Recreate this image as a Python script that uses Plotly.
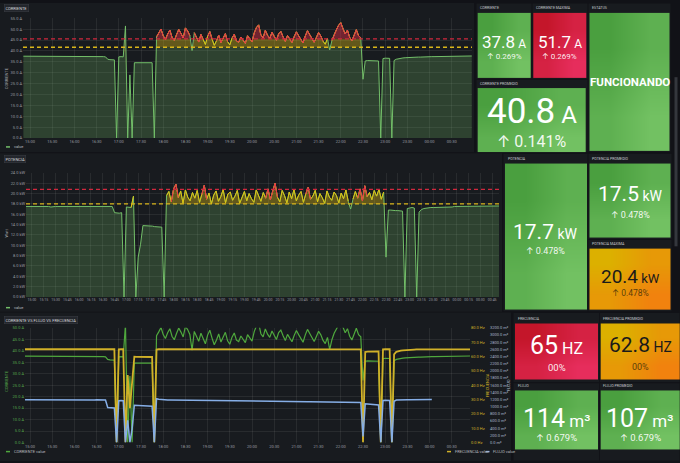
import pandas as pd
import plotly.graph_objects as go

# ---------------- data ----------------
times = pd.date_range("2023-06-01 14:51", periods=203, freq="3min")

corriente = [
    37.6, 37.6, 37.7, 37.6, 37.6, 37.6, 37.7, 37.6, 37.6, 37.6,
    37.6, 37.5, 37.6, 37.6, 37.6, 37.6, 37.5, 37.6, 37.6, 37.5,
    37.5, 37.6, 37.5, 37.5, 37.5, 37.6, 37.5, 37.5, 37.5, 37.5,
    37.5, 37.4, 37.5, 37.4, 37.4, 37.4, 37.4, 37.3,
    36.2, 36.0, 35.9, 35.9,
    0.0,
    37.3, 37.4, 37.3,
    51.5, 0.0, 29.0, 0.0,
    34.6, 34.6, 34.5, 34.6, 34.5, 34.5, 34.6, 34.5, 34.6,
    0.0,
    46.5, 48.2, 50.1, 47.0, 45.3, 47.8, 49.6, 46.2, 44.8, 47.5,
    49.9, 48.1, 46.0, 50.6, 49.2, 47.1, 40.2, 48.4, 46.3, 44.1,
    47.6, 45.2, 43.0, 46.8, 48.9, 45.5, 42.6, 44.7, 47.3, 43.8,
    46.1, 48.0, 44.3, 42.8, 45.9, 47.7, 44.6, 44.0, 46.4, 45.1,
    43.5, 47.0, 45.6, 44.2, 48.3, 50.8, 52.0, 47.4, 46.0, 49.5,
    47.2, 45.8, 48.6, 46.7, 44.9, 47.9, 49.0, 46.5, 44.4, 47.1,
    45.3, 43.9, 46.6, 48.8, 47.0, 45.2, 43.7, 46.9, 49.3, 47.5,
    45.4, 44.0, 46.2, 48.5, 46.9, 44.5, 43.1, 45.8, 40.5, 44.8,
    47.6, 49.7, 51.8, 53.0, 50.2, 47.8, 49.6, 46.3, 44.7, 47.2,
    49.8, 47.0, 46.1,
    27.0,
    35.4, 35.6, 35.6, 35.5, 35.6, 35.5, 35.4,
    0.0,
    36.5, 36.7, 36.7, 36.6,
    0.0,
    35.6, 36.2, 36.5, 36.7, 36.8, 36.9, 37.0, 37.0, 37.1, 37.1,
    37.2, 37.2, 37.2, 37.3, 37.3, 37.3, 37.3, 37.4, 37.4, 37.4,
    37.4, 37.5, 37.5, 37.5, 37.5, 37.5, 37.6, 37.6, 37.6, 37.6,
    37.6, 37.6, 37.7, 37.7, 37.7, 37.7,
]

potencia = [
    17.5, 17.5, 17.6, 17.5, 17.5, 17.5, 17.6, 17.5, 17.5, 17.5,
    17.5, 17.4, 17.5, 17.5, 17.5, 17.5, 17.4, 17.5, 17.5, 17.5,
    17.4, 17.5, 17.5, 17.4, 17.5, 17.5, 17.4, 17.5, 17.4, 17.5,
    17.4, 17.5, 17.4, 17.5, 17.5, 17.4, 17.5, 17.5,
    16.3, 16.2, 16.2, 16.3,
    0.0,
    17.4, 17.4, 17.3,
    19.5, 0.0, 7.7, 10.2,
    13.8, 13.8, 13.7, 13.7, 13.7, 13.6, 13.6, 13.5, 13.5,
    0.0,
    19.6, 20.4, 18.4, 20.9, 21.8, 19.2, 20.5, 18.1, 20.7, 19.3,
    18.6, 20.2, 19.1, 20.6, 18.3, 19.8, 21.6, 18.9, 20.1, 18.0,
    19.7, 20.5, 18.5, 19.4, 20.8, 18.2, 19.9, 20.3, 18.7, 19.5,
    20.6, 18.1, 19.2, 20.4, 18.6, 20.0, 19.0, 18.3, 20.7, 19.4,
    18.5, 20.2, 19.1, 20.9, 18.8, 20.5, 22.0, 19.3, 18.4, 20.6,
    19.6, 18.2, 20.3, 19.0, 20.8, 18.6, 19.7, 20.4, 18.3, 19.9,
    21.2, 18.9, 19.5, 20.6, 18.4, 20.0, 19.2, 18.1, 20.5, 19.3,
    18.7, 20.3, 19.6, 18.2, 20.1, 19.0, 20.7, 18.5, 17.0, 18.9,
    20.4, 19.1, 20.9, 18.6, 21.5, 19.4, 20.2, 18.8, 20.6, 19.5,
    20.8, 18.9, 20.3,
    7.7,
    16.8, 16.8, 16.7, 16.7, 16.7, 16.6, 16.6,
    0.0,
    17.1, 17.2, 17.3, 17.2,
    0.0,
    16.4, 16.9, 17.1, 17.2, 17.2, 17.3, 17.3, 17.3, 17.3, 17.4,
    17.4, 17.4, 17.4, 17.4, 17.4, 17.5, 17.5, 17.5, 17.5, 17.5,
    17.5, 17.5, 17.5, 17.5, 17.6, 17.6, 17.6, 17.6, 17.6, 17.6,
    17.6, 17.6, 17.6, 17.6, 17.6, 17.6,
]

frecuencia = [
    65.0, 65.0, 65.0, 64.9, 65.0, 65.0, 65.0, 65.0, 64.9, 65.0,
    65.0, 65.0, 65.0, 65.0, 65.0, 64.9, 65.0, 65.0, 65.0, 65.0,
    65.0, 65.0, 64.9, 65.0, 65.0, 65.0, 65.0, 65.0, 65.0, 64.9,
    65.0, 65.0, 65.0, 65.0, 65.0, 65.0, 64.9, 65.0, 65.0, 65.0,
    65.0, 65.0,
    0.0,
    64.9, 65.0, 65.0,
    0.0, 47.0, 24.0, 41.0,
    59.8, 59.7, 59.7, 59.6, 59.7, 59.6, 59.6, 59.7, 59.6,
    0.0,
    64.8, 65.0, 65.0, 65.1, 65.0, 65.0, 64.9, 65.0, 65.0, 65.0,
    65.0, 65.1, 65.0, 65.0, 65.0, 64.9, 65.0, 65.0, 65.1, 65.0,
    65.0, 65.0, 65.0, 64.9, 65.0, 65.0, 65.0, 65.1, 65.0, 65.0,
    65.0, 64.9, 65.0, 65.0, 65.0, 65.0, 65.1, 65.0, 65.0, 65.0,
    64.9, 65.0, 65.0, 65.0, 65.1, 65.0, 65.0, 65.0, 64.9, 65.0,
    65.0, 65.0, 65.1, 65.0, 65.0, 65.0, 65.0, 64.9, 65.0, 65.0,
    65.1, 65.0, 65.0, 65.0, 64.9, 65.0, 65.0, 65.0, 65.0, 65.1,
    65.0, 65.0, 64.9, 65.0, 65.0, 65.0, 65.1, 65.0, 65.0, 65.0,
    65.0, 64.9, 65.0, 65.0, 65.0, 65.1, 65.0, 65.0, 65.0, 64.9,
    65.0, 65.0, 64.9,
    0.0,
    63.1, 63.3, 63.3, 63.4, 63.4, 63.5, 63.5,
    0.0,
    64.9, 65.0, 65.0, 65.0,
    0.0,
    61.5, 63.2, 63.8, 64.1, 64.3, 64.5, 64.6, 64.7, 64.8, 64.8,
    64.9, 64.9, 64.9, 65.0, 65.0, 65.0, 65.0, 65.0, 65.0, 65.0,
    65.0, 65.0, 65.0, 65.0, 65.0, 65.0, 65.0, 65.0, 65.0, 65.0,
    65.0, 65.0, 65.0, 65.0, 65.0, 65.0,
]

flujo = [
    1195, 1194, 1196, 1195, 1193, 1194, 1195, 1193, 1192, 1194,
    1193, 1192, 1193, 1191, 1192, 1193, 1191, 1190, 1192, 1191,
    1190, 1191, 1189, 1190, 1191, 1189, 1188, 1190, 1189, 1188,
    1189, 1187, 1188, 1189, 1187, 1186, 1188, 1186,
    975, 968, 966, 964,
    0,
    1165, 1168, 1164,
    0, 620, 0, 380,
    1038, 1034, 1031, 1028, 1025, 1021, 1018, 1014, 1010,
    0,
    1222, 1205, 1196, 1190, 1188, 1186, 1185, 1184, 1183, 1182,
    1181, 1180, 1180, 1179, 1178, 1177, 1177, 1176, 1175, 1175,
    1174, 1173, 1172, 1172, 1171, 1170, 1169, 1169, 1168, 1167,
    1166, 1166, 1165, 1164, 1163, 1163, 1162, 1161, 1160, 1160,
    1159, 1158, 1157, 1157, 1156, 1155, 1154, 1154, 1153, 1152,
    1151, 1150, 1150, 1149, 1148, 1147, 1147, 1146, 1145, 1144,
    1143, 1143, 1142, 1141, 1140, 1139, 1139, 1138, 1137, 1136,
    1135, 1134, 1134, 1133, 1132, 1131, 1130, 1130, 1129, 1128,
    1127, 1126, 1126, 1125, 1124, 1123, 1122, 1121, 1120, 1119,
    1118, 1117, 1116,
    170,
    1078, 1072, 1068, 1064, 1060, 1055, 1048,
    0,
    1172, 1176, 1175, 1174,
    0,
    1150, 1182, 1188, 1190, 1191, 1191, 1192, 1192, 1193, 1193,
    1193, 1194, 1194, 1194, 1195, 1195, 1195, 1196,
    None, None, None, None, None, None, None, None, None, None,
    None, None, None, None, None, None, None, None,
]

for name, arr in [("corriente", corriente), ("potencia", potencia),
                  ("frecuencia", frecuencia), ("flujo", flujo)]:
    assert len(arr) == len(times), (name, len(arr))

corr_thresholds = [41.7, 45.6]
pot_thresholds = [18.0, 20.8]

stat_titles = ["CORRIENTE", "CORRIENTE MAXIMA", "ESTATUS", "CORRIENTE PROMEDIO",
               "POTENCIA", "POTENCIA PROMEDIO", "POTENCIA MAXIMA",
               "FRECUENCIA", "FRECUENCIA PROMEDIO", "FLUJO", "FLUJO PROMEDIO"]
stat_values = ["37.8", "51.7", "FUNCIONANDO", "40.8", "17.7", "17.5", "20.4",
               "65", "62.8", "114", "107"]
stat_units = ["A", "A", "", "A", "kW", "kW", "kW", "HZ", "HZ", "m³", "m³"]
stat_deltas = ["↑ 0.269%", "↑ 0.269%", "", "↑ 0.141%", "↑ 0.478%", "↑ 0.478%",
               "↑ 0.478%", "00%", "00%", "↑ 0.679%", "↑ 0.679%"]

# ---------------- styling / layout helpers ----------------
W, H = 680, 463
PAGE_BG = "#111217"
PANEL_BG = "#181b1f"
GRID = "rgba(255,255,255,0.07)"
TICK = "#9a9ca3"
FONT = "Roboto, Inter, sans-serif"


def X(px):
    return px / W


def Y(py):
    return 1 - py / H


schemes = {
    "green": ("#4a9f3f", "#72c162", "#ffffff", "rgba(255,255,255,0.92)"),
    "red": ("#c4162a", "#e62d5c", "#ffffff", "rgba(255,255,255,0.92)"),
    "orange": ("#dcb000", "#f1820e", "#1a1a1a", "rgba(40,30,10,0.75)"),
}

# panel rect, box rect, value y, delta y, (value size, unit size, delta size), scheme, weight
stat_layout = [
    ((476, 0, 532, 77), (477.7, 10, 530.7, 75.3), 39.5, 54.5, (17, 12, 8), "green", 400),
    ((532, 0, 588, 77), (533.3, 10, 586, 75.3), 39.5, 54.5, (17, 12, 8), "red", 400),
    ((588, 0, 671, 151), (589.5, 10, 669.5, 150), 80, 0, (11.5, 0, 0), "green", 700),
    ((476, 77, 588, 151), (477.7, 86, 586, 150.3), 110, 140, (35, 24, 16), "green", 400),
    ((503, 152, 588, 312), (505, 162.3, 586.7, 310), 232, 251, (21, 14, 9), "green", 400),
    ((588, 152, 672, 239), (589.5, 162.3, 670.7, 236.7), 193.5, 214, (21, 14, 9), "green", 400),
    ((588, 239, 672, 312), (589.5, 248.3, 670.7, 310), 276, 293.5, (19, 13, 8.5), "orange", 400),
    ((513, 313, 599.5, 384), (515, 324, 598.3, 381), 346, 368, (25, 16, 9.5), "red", 400),
    ((599.5, 313, 680, 384), (600.7, 324, 680, 381), 346, 368, (21, 14, 9), "orange", 400),
    ((513, 384, 599.5, 463), (515, 391.7, 598.3, 451.7), 420, 439.5, (25, 17, 9.5), "green", 400),
    ((599.5, 384, 680, 463), (600.7, 391.7, 680, 451.7), 420, 439.5, (25, 17, 9.5), "green", 400),
]

chart_panels = [(0, 0, 474, 151), (0, 152, 502, 312), (0, 313, 511, 463)]

fig = go.Figure()

GREEN = "#73bf69"
YELLOW = "#e0c20e"
RED = "#e8304a"
GFILL = "rgba(115,191,105,0.24)"
YFILL = "rgba(224,190,20,0.38)"
RFILL = "rgba(224,47,68,0.45)"


def threshold_series(v, thr, xa, ya):
    yt, rt = thr
    n = len(v)
    a = [min(x, yt) for x in v]
    b = [min(x, rt) if x > yt else ai for x, ai in zip(v, a)]
    c = [x if x > rt else bi for x, bi in zip(v, b)]
    common = dict(x=times, xaxis=xa, yaxis=ya, mode="lines", hoverinfo="skip")
    fig.add_trace(go.Scatter(y=a, fill="tozeroy", fillcolor=GFILL, line=dict(width=0), **common))
    fig.add_trace(go.Scatter(y=b, fill="tonexty", fillcolor=YFILL, line=dict(width=0), **common))
    fig.add_trace(go.Scatter(y=c, fill="tonexty", fillcolor=RFILL, line=dict(width=0), **common))
    fig.add_trace(go.Scatter(y=v, line=dict(color=GREEN, width=1), **common))

    def nb(i, t):
        return (i > 0 and v[i - 1] > t) or (i < n - 1 and v[i + 1] > t)

    yl = [v[i] if (v[i] > yt - 1.0 and (v[i] > yt or nb(i, yt))) else None for i in range(n)]
    rl = [v[i] if (v[i] > rt - 2.5 and (v[i] > rt or nb(i, rt))) else None for i in range(n)]
    fig.add_trace(go.Scatter(y=yl, line=dict(color=YELLOW, width=1), **common))
    fig.add_trace(go.Scatter(y=rl, line=dict(color=RED, width=1), **common))


threshold_series(corriente, corr_thresholds, "x", "y")
threshold_series(potencia, pot_thresholds, "x2", "y2")

# panel 3
fig.add_trace(go.Scatter(x=times, y=corriente, xaxis="x3", yaxis="y3", mode="lines",
                         line=dict(color="#4fa83d", width=1.2), hoverinfo="skip"))
fig.add_trace(go.Scatter(x=times, y=flujo, xaxis="x3", yaxis="y6", mode="lines",
                         line=dict(color="#86aee6", width=1.5), hoverinfo="skip"))
fig.add_trace(go.Scatter(x=times, y=frecuencia, xaxis="x3", yaxis="y5", mode="lines",
                         line=dict(color="#d1b128", width=1.8), hoverinfo="skip"))

# stat backgrounds as smooth gradient heatmaps on a full-figure pixel axis
for (pr, br, vy, dy, sz, sch, wt) in stat_layout:
    x0, y0, x1, y1 = br
    c1, c2, _, _ = schemes[sch]
    fig.add_trace(go.Heatmap(
        x=[x0, (x0 + x1) / 2, x1], y=[y0, (y0 + y1) / 2, y1],
        z=[[0, 0.5], [0.5, 1]], colorscale=[[0, c1], [1, c2]],
        zsmooth="best", showscale=False, xaxis="x7", yaxis="y7", hoverinfo="skip"))

# ---------------- axes ----------------
xcommon = dict(type="date", tickformat="%H:%M", tick0="2023-06-01 15:00", showgrid=True,
               gridcolor=GRID, gridwidth=1, zeroline=False, showline=False, ticks="",
               tickangle=0, tickmode="linear")
ycommon = dict(showgrid=True, gridcolor=GRID, gridwidth=1, zeroline=False, showline=False,
               ticks="", tickfont=dict(size=4, color=TICK, family=FONT), tickmode="linear",
               tickformat=".1f")

fig.update_layout(
    xaxis=dict(domain=[X(23), X(472)], anchor="y", dtick=1800000,
               range=["2023-06-01 14:50:30", "2023-06-02 00:57:20"],
               tickfont=dict(size=4, color=TICK, family=FONT), **xcommon),
    yaxis=dict(domain=[Y(136.5), Y(15.5)], anchor="x", range=[0, 55], dtick=5, tick0=0,
               ticksuffix=" A", **ycommon),
    xaxis2=dict(domain=[X(26), X(499)], anchor="y2", dtick=900000,
                range=["2023-06-01 14:52:24", "2023-06-02 00:53:36"],
                tickfont=dict(size=3.5, color=TICK, family=FONT), **xcommon),
    yaxis2=dict(domain=[Y(297.2), Y(171.7)], anchor="x2", range=[0, 24], dtick=2, tick0=0,
                ticksuffix=" kW", **ycommon),
    xaxis3=dict(domain=[X(25), X(470)], anchor="y3", dtick=1800000,
                range=["2023-06-01 14:53:15", "2023-06-02 00:54:35"],
                tickfont=dict(size=4, color=TICK, family=FONT), **xcommon),
    yaxis3=dict(domain=[Y(444.3), Y(328.3)], anchor="x3", range=[0, 50], dtick=5, tick0=0,
                ticksuffix=" A", **{**ycommon, "tickfont": dict(size=4, color="#56a64b", family=FONT)}),
    yaxis5=dict(overlaying="y3", side="right", anchor="x3", range=[0, 80], dtick=10, tick0=0,
                ticksuffix=" Hz", **{**ycommon, "showgrid": False,
                                     "tickfont": dict(size=4, color="#d1b128", family=FONT)}),
    yaxis6=dict(overlaying="y3", side="right", anchor="free", position=X(489), range=[0, 3200],
                dtick=200, tick0=0, ticksuffix=" m³",
                **{**ycommon, "showgrid": False, "tickfont": dict(size=4, color="#a9b6c8", family=FONT)}),
    xaxis7=dict(domain=[0, 1], range=[0, W], visible=False, anchor="y7", fixedrange=True),
    yaxis7=dict(domain=[0, 1], range=[H, 0], visible=False, anchor="x7", fixedrange=True),
)

# ---------------- shapes ----------------
shapes = []
for (x0, y0, x1, y1) in chart_panels:
    shapes.append(dict(type="rect", xref="paper", yref="paper", x0=X(x0), x1=X(x1), y0=Y(y1), y1=Y(y0),
                       fillcolor=PANEL_BG, line=dict(width=0), layer="below"))
for (pr, br, vy, dy, sz, sch, wt) in stat_layout:
    x0, y0, x1, y1 = pr
    shapes.append(dict(type="rect", xref="paper", yref="paper", x0=X(x0 + 0.5), x1=X(x1 - 0.5),
                       y0=Y(y1 - 0.5), y1=Y(y0 + 0.5), fillcolor=PANEL_BG, line=dict(width=0), layer="below"))
# scrollbar thumb
shapes.append(dict(type="rect", xref="paper", yref="paper", x0=X(674.5), x1=X(677.5), y0=Y(246), y1=Y(75),
                   fillcolor="#34373d", line=dict(width=0), layer="below"))

# thresholds
for ya, thr in [("y", corr_thresholds), ("y2", pot_thresholds)]:
    xa = "x" if ya == "y" else "x2"
    for val, col in zip(thr, ["#d9b51a", "#d0283e"]):
        shapes.append(dict(type="line", xref=f"{xa} domain", yref=ya, x0=0, x1=1, y0=val, y1=val,
                           line=dict(color=col, width=1.3, dash="4px,3px")))

# legend swatches
legend_items = [
    (6, 145.5, GREEN, "value"),
    (6, 308, GREEN, "value"),
    (6, 453.5, "#4fa83d", "CORRIENTE value"),
    (447, 453.5, "#d1b128", "FRECUENCIA value"),
    (485.5, 453.5, "#86aee6", "FLUJO value"),
]
annotations = []
for (lx, ly, col, txt) in legend_items:
    shapes.append(dict(type="line", xref="paper", yref="paper", x0=X(lx), x1=X(lx + 4), y0=Y(ly), y1=Y(ly),
                       line=dict(color=col, width=1.5)))
    annotations.append(dict(x=X(lx + 5.5), y=Y(ly), xref="paper", yref="paper", text=txt, showarrow=False,
                            xanchor="left", yanchor="middle", font=dict(size=4, color="#b8b9bf", family=FONT)))

# chart panel titles
for (tx, ty, txt) in [(4, 5.5, "CORRIENTE"), (4, 157.5, "POTENCIA"),
                      (4, 320, "CORRIENTE VS FLUJO VS FRECUENCIA")]:
    annotations.append(dict(x=X(tx), y=Y(ty), xref="paper", yref="paper", text=txt, showarrow=False,
                            xanchor="left", yanchor="middle", bgcolor="#23262c", bordercolor="#3b3e45",
                            borderwidth=0.5, borderpad=1, font=dict(size=4, color="#d8d9de", family=FONT)))

# axis titles
for (tx, ty, txt, col) in [(6, 76, "CORRIENTE", "#a0a2a8"), (6, 233, "Watt", "#a0a2a8"),
                           (7, 382, "CORRIENTE", "#56a64b"), (487.5, 387, "FRECUENCIA", "#d1b128"),
                           (508.5, 387, "FLUJO", "#a9b6c8")]:
    annotations.append(dict(x=X(tx), y=Y(ty), xref="paper", yref="paper", text=txt, showarrow=False,
                            textangle=-90, xanchor="center", yanchor="middle",
                            font=dict(size=4, color=col, family=FONT)))

# stat panels text
for i, (pr, br, vy, dy, sz, sch, wt) in enumerate(stat_layout):
    x0, y0, x1, y1 = br
    cx = (x0 + x1) / 2
    _, _, tcol, dcol = schemes[sch]
    annotations.append(dict(x=X(x0 + 0.5), y=Y(y0 - 4.5), xref="paper", yref="paper", text=stat_titles[i],
                            showarrow=False, xanchor="left", yanchor="middle",
                            font=dict(size=3.6, color="#c9cad0", family=FONT)))
    vs, us, ds = sz
    if stat_units[i]:
        txt = f"{stat_values[i]}<span style='font-size:{us}px'> {stat_units[i]}</span>"
    else:
        txt = stat_values[i]
    annotations.append(dict(x=X(cx), y=Y(vy), xref="paper", yref="paper", text=txt, showarrow=False,
                            xanchor="center", yanchor="middle",
                            font=dict(size=vs, color=tcol, family=FONT, weight=wt)))
    if stat_deltas[i]:
        annotations.append(dict(x=X(cx), y=Y(dy), xref="paper", yref="paper", text=stat_deltas[i],
                                showarrow=False, xanchor="center", yanchor="middle",
                                font=dict(size=ds, color=dcol, family=FONT, weight=wt)))

fig.update_layout(
    width=W, height=H, margin=dict(l=0, r=0, t=0, b=0),
    paper_bgcolor=PAGE_BG, plot_bgcolor="rgba(0,0,0,0)",
    showlegend=False, shapes=shapes, annotations=annotations,
    font=dict(family=FONT, color="#c7c7cf"),
)

fig.write_html("out.html")
